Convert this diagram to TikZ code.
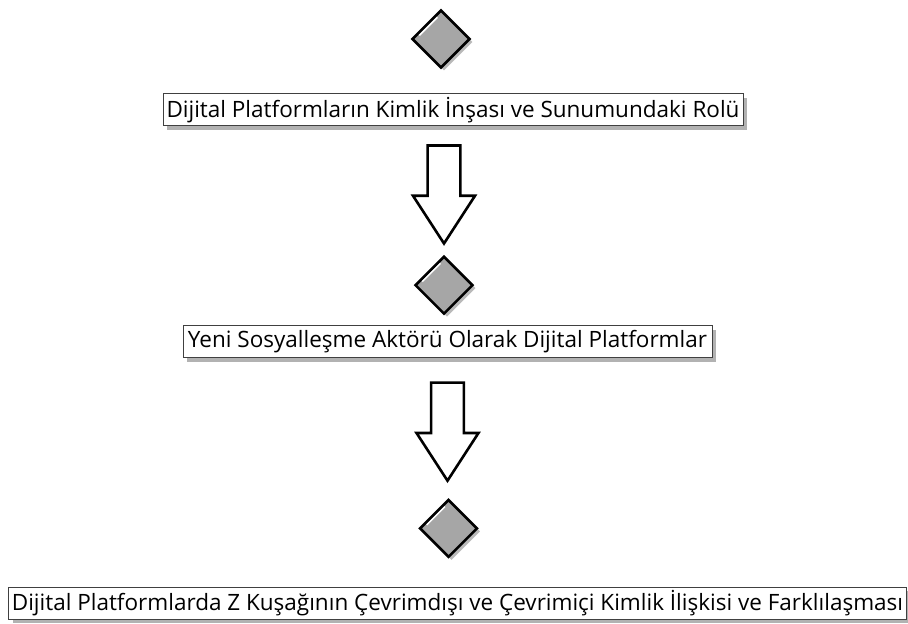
\documentclass[tikz,border=0pt]{standalone}
\usepackage{fontspec}
\setmainfont{Open Sans}
\usetikzlibrary{positioning, shapes.geometric, shapes.arrows, shadows}
\tikzset{
    gate/.style={diamond, draw=black, fill=gray!70, line width=2.6pt, minimum width=58pt, minimum height=58pt, inner sep=0pt, drop shadow={shadow xshift=3pt, shadow yshift=-3pt, fill=gray!55, opacity=1}},
    topic/.style={rectangle, draw=black!75, fill=white, line width=0.9pt, minimum height=32pt, inner sep=3pt, font=\fontsize{22.5}{26}\selectfont, drop shadow={shadow xshift=4pt, shadow yshift=-4pt, fill=gray!60, opacity=1}},
    flow/.style={single arrow, draw=black, fill=white, line width=2.6pt, minimum height=98pt, minimum width=62pt, inner xsep=0pt, inner ysep=15pt, single arrow head extend=14.5pt, single arrow tip angle=66, rotate=-90},
    shine/.style={white, line width=1.5pt, shorten <=5pt, shorten >=5pt},
}

\begin{document}
\begin{tikzpicture}[x=1pt, y=-1pt]
    \useasboundingbox (0,0) rectangle (908,624);
    \node [gate] (d1) at (441,39) {};
    \node [topic, minimum width=580pt] (b1) [below=24pt of d1, xshift=12pt] {Dijital Platformların Kimlik İnşası ve Sunumundaki Rolü};
    \node [xshift=-9pt, flow] (a1) [below=18pt of b1, anchor=tail] {};
    \node [gate] (d2) [below=9pt of a1.tip] {};
    \node [topic, minimum width=529pt] (b2) [below=10pt of d2, xshift=3.5pt] {Yeni Sosyalleşme Aktörü Olarak Dijital Platformlar};
    \node [flow] (a2) [below=23pt of b2, anchor=tail] {};
    \node [gate] (d3) [below=15pt of a2.tip, xshift=1pt] {};
    \node [topic, minimum width=896pt] (b3) [below=28pt of d3, xshift=9pt] {Dijital Platformlarda Z Kuşağının Çevrimdışı ve Çevrimiçi Kimlik İlişkisi ve Farklılaşması};
    \draw [shine] ([xshift=5pt]d1.west) -- ([yshift=-5pt]d1.north);
    \draw [shine] ([xshift=5pt]d2.west) -- ([yshift=-5pt]d2.north);
    \draw [shine] ([xshift=5pt]d3.west) -- ([yshift=-5pt]d3.north);
\end{tikzpicture}
\end{document}
